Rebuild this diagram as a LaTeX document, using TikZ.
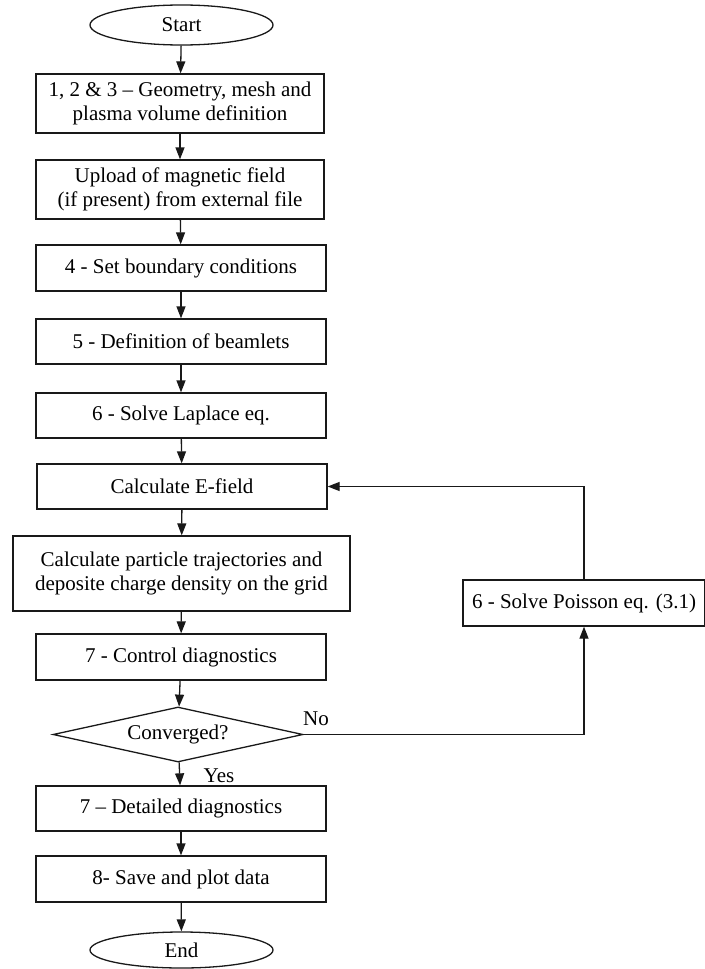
\documentclass[tikz,border=0pt]{standalone}
\usepackage{fontspec}
\setmainfont{Liberation Serif}
\usetikzlibrary{arrows.meta,shapes.geometric}
\begin{document}
\begin{tikzpicture}[x=1pt,y=-1pt,
  every node/.style={font=\fontsize{21}{24.5}\selectfont, text=black},
  box/.style={draw=black!90, line width=1.3pt, rectangle, inner sep=0pt, align=center},
  term/.style={draw=black!90, line width=1.3pt, ellipse, inner sep=0pt},
  decision/.style={draw=black!90, line width=1.3pt, diamond, aspect=4.5, inner sep=0pt},
  arr/.style={draw=black!90, line width=1.3pt, -{Triangle[length=12pt,width=9pt]}},
  lbl/.style={inner sep=0pt}]
\useasboundingbox (0,0) rectangle (704,969);
\node[term, minimum width=183pt, minimum height=40pt] (start) at (181.5,25) {Start};
\node[box, minimum width=288pt, minimum height=59pt] (b1) at (180,103.5) {1, 2 \& 3 -- Geometry, mesh and\\plasma volume definition};
\node[box, minimum width=288pt, minimum height=59pt] (b2) at (180,189.5) {Upload of magnetic field\\(if present) from external file};
\node[box, minimum width=290pt, minimum height=46pt] (b3) at (181,268) {4 - Set boundary conditions};
\node[box, minimum width=290pt, minimum height=45pt] (b4) at (181,341.5) {5 - Definition of beamlets};
\node[box, minimum width=290pt, minimum height=45pt] (b5) at (181,415.5) {6 - Solve Laplace eq.};
\node[box, minimum width=290pt, minimum height=45pt] (b6) at (182,486.5) {Calculate E-field};
\node[box, minimum width=337pt, minimum height=75pt] (b7) at (181.5,573.5) {Calculate particle trajectories and\\deposite charge density on the grid};
\node[box, minimum width=290pt, minimum height=46pt] (b8) at (181,657) {7 - Control diagnostics};
\node[decision, minimum width=250pt, minimum height=55pt] (dec) at (178,734.5) {Converged?};
\node[box, minimum width=290pt, minimum height=45pt] (b9) at (181,808.5) {7 -- Detailed diagnostics};
\node[box, minimum width=290pt, minimum height=46pt] (b10) at (181,879) {8- Save and plot data};
\node[term, minimum width=183pt, minimum height=36pt] (end) at (181.5,950) {End};
\node[box, minimum width=242pt, minimum height=46pt] (pois) at (584,603) {6 - Solve Poisson eq. (3.1)};
\node[lbl] (no) at (316,719) {No};
\node[lbl] (yes) at (219,776) {Yes};
\draw[arr] (start) -- (b1);
\draw[arr] (b1) -- (b2);
\draw[arr] (b2) -- (b3);
\draw[arr] (b3) -- (b4);
\draw[arr] (b4) -- (b5);
\draw[arr] (b5) -- (b6);
\draw[arr] (b6) -- (b7);
\draw[arr] (b7) -- (b8);
\draw[arr] (b8) -- (dec);
\draw[arr] (dec) -- (b9);
\draw[arr] (b9) -- (b10);
\draw[arr] (b10) -- (end);
\draw[arr] (dec.east) -| (pois.south);
\draw[arr] (pois.north) |- (b6.east);
\end{tikzpicture}
\end{document}
